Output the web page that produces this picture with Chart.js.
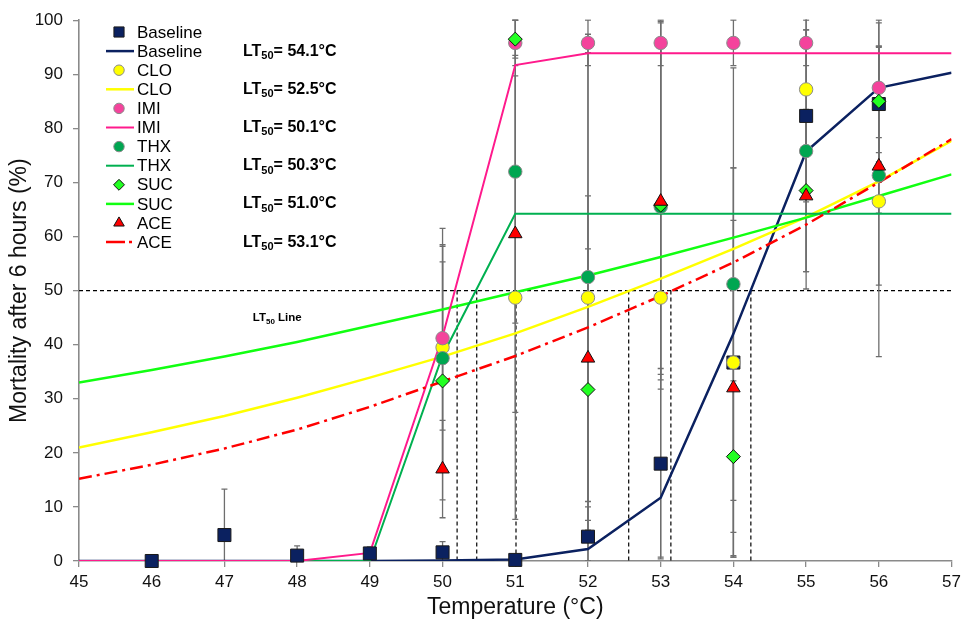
<!DOCTYPE html>
<html>
<head>
<meta charset="utf-8">
<script src="https://cdn.jsdelivr.net/npm/chart.js@4.4.1/dist/chart.umd.min.js"></script>
<style>
  html, body { margin: 0; padding: 0; background: #fff; }
  #wrap { width: 966px; height: 623px; }
</style>
</head>
<body>
<div id="wrap"><canvas id="lt50Chart" width="966" height="623"></canvas></div>
<script>
// temperatures
const fitTemps = [45, 46, 47, 48, 49, 50, 51, 52, 53, 54, 55, 56, 57];
const baseTemps = [46, 47, 48, 49, 50, 51, 52, 53, 54, 55, 56];
const treatTemps = [50, 51, 52, 53, 54, 55, 56];

// observed mortality (%)
const baselineObs = [0, 4.8, 1.0, 1.4, 1.6, 0.2, 4.5, 18.0, 36.7, 82.3, 84.5];
const cloObs = [39.5, 48.7, 48.7, 48.7, 36.7, 87.2, 66.5];
const imiObs = [41.2, 95.8, 95.8, 95.8, 95.8, 95.8, 87.5];
const thxObs = [37.5, 72.0, 52.5, 65.5, 51.2, 75.8, 71.3];
const sucObs = [33.3, 96.5, 31.7, 65.8, 19.3, 68.5, 85.0];
const aceObs = [17.0, 60.5, 37.5, 66.5, 32.0, 67.5, 73.0];

// error (+/-)
const baselineErr = [0, 8.5, 1.8, 1.2, 2.0, 0.3, 5.5, 17.6, 36.0, 15.9, 10.7];
const cloErr = [22.0, 41.0, 48.7, 48.0, 36.0, 11.0, 28.7];
const imiErr = [17.0, 4.2, 4.2, 4.2, 4.2, 4.2, 12.0];
const thxErr = [21.0, 28.0, 41.5, 31.0, 40.0, 25.5, 7.0];
const sucErr = [22.0, 3.5, 26.0, 34.0, 14.0, 15.0, 15.0];
const aceErr = [9.0, 33.0, 30.0, 33.0, 31.0, 14.0, 22.0];

// fitted curves
const baselineFit = [0, 0, 0, 0, 0, 0.1, 0.3, 2.2, 11.7, 42.0, 75.7, 87.5, 90.3];
const cloFit = [21.0, 23.8, 26.8, 30.2, 33.9, 37.8, 42.1, 47.0, 52.2, 57.7, 63.6, 70.2, 77.7];
const imiFit = [0, 0, 0, 0, 1.5, 41.5, 91.7, 93.9, 93.9, 93.9, 93.9, 93.9, 93.9];
const thxFit = [0, 0, 0, 0, 0, 38.0, 64.2, 64.2, 64.2, 64.2, 64.2, 64.2, 64.2];
const sucFit = [33.0, 35.3, 37.8, 40.5, 43.5, 46.5, 49.7, 52.8, 56.2, 59.8, 63.5, 67.5, 71.5];
const aceFit = [15.2, 17.8, 20.8, 24.3, 28.5, 33.2, 37.9, 43.2, 49.0, 55.2, 62.2, 70.0, 78.0];

const lt50Level = 50;
const lt50Values = ['54.1', '52.5', '50.1', '50.3', '51.0', '53.1'];
const lt50Cross = [54.24, 52.56, 50.20, 50.47, 51.01, 53.14];

const FONT = "'Liberation Sans', Arial, sans-serif";

function pts(xs, ys){
  return xs.map((x, i) => ({ x, y: ys[i] }));
}

function marks(label, xs, ys, errs, style, fill, edge, radius, order){
  return {
    label,
    data: pts(xs, ys),
    errors: errs,
    showLine: false,
    pointStyle: style,
    pointRadius: radius,
    pointHoverRadius: radius,
    backgroundColor: fill,
    borderColor: edge,
    borderWidth: 1,
    clip: false,
    order
  };
}

function curve(label, ys, color, width, dash, order){
  return {
    label,
    data: pts(fitTemps, ys),
    showLine: true,
    pointRadius: 0,
    borderColor: color,
    backgroundColor: color,
    borderWidth: width,
    borderDash: dash || [],
    tension: 0,
    isCurve: true,
    order
  };
}

const datasets = [
  marks('Baseline', baseTemps, baselineObs, baselineErr, 'rect', '#0b2160', '#1a1a1a', 9.2, 6),
  curve('Baseline', baselineFit, '#0b2160', 2.5, null, 16),
  marks('CLO', treatTemps, cloObs, cloErr, 'circle', '#ffff00', '#8a8a8a', 6.7, 5),
  curve('CLO', cloFit, '#ffff00', 2.5, null, 15),
  marks('IMI', treatTemps, imiObs, imiErr, 'circle', '#f4439c', '#8a8a8a', 6.7, 4),
  curve('IMI', imiFit, '#ff1a8c', 2, null, 12),
  marks('THX', treatTemps, thxObs, thxErr, 'circle', '#00a651', '#8a8a8a', 6.7, 3),
  curve('THX', thxFit, '#00b050', 2, null, 13),
  marks('SUC', treatTemps, sucObs, sucErr, 'rectRot', '#22ff22', '#111', 7, 2),
  curve('SUC', sucFit, '#11ff11', 2.5, null, 14),
  marks('ACE', treatTemps, aceObs, aceErr, 'triangle', '#ff0000', '#111', 7.8, 1),
  curve('ACE', aceFit, '#ff0000', 2.5, [13, 5, 3, 5], 11)
];

function drawLt(ctx, x, y, size, tail){
  ctx.font = 'bold ' + size + 'px ' + FONT;
  ctx.textBaseline = 'middle';
  ctx.textAlign = 'left';
  ctx.fillText('LT', x, y);
  let cx = x + ctx.measureText('LT').width;
  ctx.font = 'bold ' + Math.round(size * 0.68) + 'px ' + FONT;
  ctx.fillText('50', cx, y + size * 0.3);
  cx += ctx.measureText('50').width;
  ctx.font = 'bold ' + size + 'px ' + FONT;
  ctx.fillText(tail, cx, y);
}

const annotate = {
  id: 'annotate',
  beforeDatasetsDraw(chart){
    const { ctx, chartArea: a, scales: { x, y } } = chart;
    ctx.save();
    ctx.beginPath();
    ctx.rect(a.left, a.top - 1, a.width, a.height + 1);
    ctx.clip();

    // dashed LT50 guides
    ctx.strokeStyle = '#000';
    ctx.lineWidth = 1.2;
    ctx.setLineDash([4, 3]);
    const y50 = y.getPixelForValue(lt50Level);
    ctx.beginPath();
    ctx.moveTo(a.left, y50);
    ctx.lineTo(a.right, y50);
    ctx.stroke();
    lt50Cross.forEach(t => {
      const px = x.getPixelForValue(t);
      ctx.beginPath();
      ctx.moveTo(px, y50);
      ctx.lineTo(px, y.getPixelForValue(0));
      ctx.stroke();
    });
    ctx.setLineDash([]);

    // error bars
    ctx.strokeStyle = '#6e6e6e';
    ctx.lineWidth = 1.3;
    chart.data.datasets.forEach(ds => {
      if(!ds.errors)return;
      ds.data.forEach((p, i) => {
        const e = ds.errors[i];
        if(!e)return;
        const px = x.getPixelForValue(p.x);
        const top = y.getPixelForValue(p.y + e);
        const bot = y.getPixelForValue(p.y - e);
        ctx.beginPath();
        ctx.moveTo(px, top);
        ctx.lineTo(px, bot);
        ctx.moveTo(px - 3, top);
        ctx.lineTo(px + 3, top);
        ctx.moveTo(px - 3, bot);
        ctx.lineTo(px + 3, bot);
        ctx.stroke();
      });
    });
    ctx.restore();
  },
  afterDraw(chart){
    const { ctx, scales: { x, y } } = chart;
    ctx.save();

    // legend
    const rowTop = 32;
    const rowGap = 19.1;
    chart.data.datasets.forEach((ds, i) => {
      const cy = rowTop + i * rowGap;
      if(ds.isCurve){
        ctx.strokeStyle = ds.borderColor;
        ctx.lineWidth = ds.borderWidth;
        ctx.setLineDash(ds.borderDash.length ? [19, 4, 3, 4] : []);
        ctx.beginPath();
        ctx.moveTo(106, cy);
        ctx.lineTo(134, cy);
        ctx.stroke();
        ctx.setLineDash([]);
      } else {
        ctx.fillStyle = ds.backgroundColor;
        ctx.strokeStyle = ds.borderColor;
        ctx.lineWidth = 1;
        Chart.helpers.drawPoint(ctx, {
          pointStyle: ds.pointStyle,
          radius: ds.pointRadius * 0.78,
          rotation: 0,
          borderWidth: 1
        }, 119, cy);
      }
      ctx.fillStyle = '#000';
      ctx.font = '17px ' + FONT;
      ctx.textAlign = 'left';
      ctx.textBaseline = 'middle';
      ctx.fillText(ds.label, 137, cy + 1);
    });

    // LT50 values
    ctx.fillStyle = '#000';
    lt50Values.forEach((v, i) => {
      const cy = rowTop + (i * 2 + 1) * rowGap;
      drawLt(ctx, 243, cy, 16, '= ' + v + '\u00B0C');
    });

    drawLt(ctx, x.getPixelForValue(47.39), y.getPixelForValue(44.9), 11.5, ' Line');
    ctx.restore();
  }
};

new Chart(document.getElementById('lt50Chart'), {
  type: 'scatter',
  data: { datasets },
  options: {
    responsive: false,
    animation: false,
    devicePixelRatio: 1,
    layout: { padding: { top: 17, right: 13, left: 0, bottom: 0 } },
    plugins: {
      legend: { display: false },
      tooltip: { enabled: false }
    },
    scales: {
      x: {
        type: 'linear',
        min: 45,
        max: 57,
        afterFit(scale){ scale.height = 62; },
        ticks: {
          stepSize: 1,
          color: '#111',
          padding: 5,
          font: { family: FONT, size: 17 }
        },
        grid: { drawOnChartArea: false, drawTicks: true, tickLength: 6, color: '#8a8a8a', lineWidth: 1.3 },
        border: { color: '#8a8a8a', width: 1.6 },
        title: {
          display: true,
          text: 'Temperature (\u00B0C)',
          color: '#111',
          font: { family: FONT, size: 23 },
          padding: { bottom: 2, top: 0 }
        }
      },
      y: {
        type: 'linear',
        min: 0,
        max: 100,
        afterFit(scale){ scale.width = 79; },
        ticks: {
          stepSize: 10,
          color: '#111',
          padding: 10,
          font: { family: FONT, size: 17 }
        },
        grid: { drawOnChartArea: false, drawTicks: true, tickLength: 6, color: '#8a8a8a', lineWidth: 1.3 },
        border: { color: '#8a8a8a', width: 1.6 },
        title: {
          display: true,
          text: 'Mortality after 6 hours (%)',
          color: '#111',
          font: { family: FONT, size: 23 },
          padding: { top: 6, bottom: 0 }
        }
      }
    }
  },
  plugins: [annotate]
});
</script>
</body>
</html>
